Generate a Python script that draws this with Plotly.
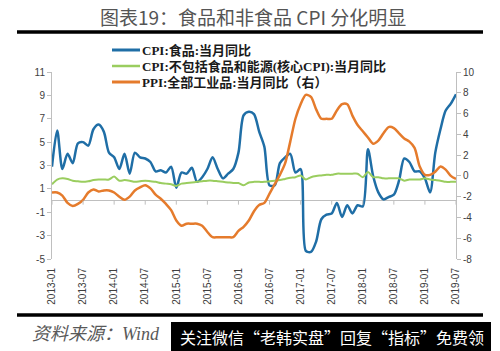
import plotly.graph_objects as go

months = [f"{y}-{m:02d}" for y in range(2013, 2020) for m in range(1, 13)][:79]

cpi_food = [
    2.9, 6.0, 2.7, 4.0, 3.2, 4.9, 5.0, 4.7, 6.1, 6.5, 5.9, 4.1,
    3.7, 2.7, 4.0, 2.3, 4.1, 3.7, 3.6, 3.3, 2.5, 2.6, 2.4, 2.9,
    1.1, 2.4, 2.3, 2.8, 1.6, 2.0, 2.7, 3.7, 2.7, 1.9, 2.3, 2.7,
    4.1, 7.3, 7.6, 7.4, 5.9, 4.6, 1.3, 1.3, 3.2, 3.7, 4.0, 2.4,
    2.7, -4.3, -4.4, -3.5, -1.6, -1.2, -1.1, -0.2, -1.4, -0.4, -1.1, -0.4,
    -0.5, 4.4, 2.1, 0.7, 0.1, 0.3, 0.5, 1.7, 3.6, 3.3, 2.5, 2.5,
    1.9, 0.7, 4.1, 6.1, 7.7, 8.3, 9.1,
]

cpi_core = [
    1.4, 1.8, 1.9, 1.85, 1.7, 1.65, 1.6, 1.65, 1.75, 1.8, 1.8, 1.8,
    2.05, 1.7, 1.75, 1.7, 1.6, 1.65, 1.7, 1.65, 1.6, 1.5, 1.45, 1.4,
    1.25, 1.45, 1.5, 1.55, 1.6, 1.65, 1.7, 1.7, 1.65, 1.6, 1.55, 1.5,
    1.5, 1.3, 1.55, 1.6, 1.6, 1.6, 1.65, 1.7, 1.75, 1.85, 1.95, 2.0,
    2.15, 1.8, 2.0, 2.1, 2.15, 2.2, 2.2, 2.3, 2.3, 2.3, 2.3, 2.3,
    2.0, 2.45, 2.0, 2.0, 1.9, 1.9, 1.9, 1.9, 1.7, 1.8, 1.8, 1.8,
    1.9, 1.8, 1.75, 1.7, 1.6, 1.6, 1.6,
]

ppi = [
    -1.6, -1.6, -1.9, -2.6, -2.9, -2.7, -2.3, -1.6, -1.3, -1.5, -1.4, -1.4,
    -1.6, -2.0, -2.3, -2.0, -1.4, -1.1, -0.9, -1.2, -1.8, -2.2, -2.7, -3.3,
    -4.3, -4.8, -4.6, -4.6, -4.6, -4.8, -5.4, -5.9, -5.9, -5.9, -5.9, -5.9,
    -5.3, -4.9, -4.3, -3.4, -2.8, -2.6, -1.7, -0.8, 0.1, 1.2, 3.3, 5.5,
    6.9, 7.8, 7.6, 6.4, 5.5, 5.5, 5.5, 6.3, 6.9, 6.9, 5.8, 4.9,
    4.3, 3.7, 3.1, 3.4, 4.1, 4.7, 4.6, 4.1, 3.6, 3.3, 2.7, 0.9,
    0.1, 0.1, 0.4, 0.9, 0.6, 0.0, -0.3,
]

names = ["CPI:食品:当月同比", "CPI:不包括食品和能源(核心CPI):当月同比", "PPI:全部工业品:当月同比（右）"]
colors = ["#1f6ea6", "#9acd5f", "#e57b2c"]
widths = [2.5, 2, 2.5]

left_ticks = [11, 9, 7, 5, 3, 1, -1, -3, -5]
right_ticks = [10, 8, 6, 4, 2, 0, -2, -4, -6, -8]
x_ticks = months[::6]

W, H = 500, 351
L, R, T, B = 52, 456, 72, 259


def px(x):
    return (x - L) / (R - L)


def py(y):
    return (B - y) / (B - T)


fig = go.Figure()
fig.add_trace(go.Scatter(x=months, y=cpi_food, name=names[0], mode="lines",
                         line=dict(color=colors[0], width=widths[0], shape="spline", smoothing=0.8)))
fig.add_trace(go.Scatter(x=months, y=cpi_core, name=names[1], mode="lines",
                         line=dict(color=colors[1], width=widths[1], shape="spline", smoothing=0.8)))
fig.add_trace(go.Scatter(x=months, y=ppi, name=names[2], mode="lines", yaxis="y2",
                         line=dict(color=colors[2], width=widths[2], shape="spline", smoothing=0.8)))

tick_font = dict(family="Liberation Sans, Arial, sans-serif", size=10, color="#404040")
axis_col = "#bfbfbf"

fig.update_layout(
    width=W, height=H,
    margin=dict(l=L, r=W - R, t=T, b=H - B, pad=0),
    paper_bgcolor="white", plot_bgcolor="white",
    showlegend=False,
    xaxis=dict(type="category", range=[0, len(months) - 1],
               tickvals=x_ticks, ticktext=x_ticks, tickangle=-90,
               showline=False, showgrid=False, zeroline=False, ticks="",
               tickfont=tick_font, ticklabelstandoff=6),
    yaxis=dict(range=[-5, 11], tickvals=left_ticks, ticktext=[str(v) for v in left_ticks],
               showline=True, linecolor=axis_col, linewidth=1,
               ticks="outside", ticklen=4, tickcolor=axis_col,
               showgrid=False, zeroline=True, zerolinecolor=axis_col, zerolinewidth=1,
               tickfont=tick_font),
    yaxis2=dict(range=[-8, 10], tickvals=right_ticks, ticktext=[str(v) for v in right_ticks],
                overlaying="y", side="right", anchor="x",
                showline=True, linecolor=axis_col, linewidth=1,
                ticks="outside", ticklen=4, tickcolor=axis_col,
                showgrid=False, zeroline=False, tickfont=tick_font),
)

shapes = []
for t in x_ticks:
    shapes.append(dict(type="line", xref="x", yref="y", x0=t, x1=t, y0=0, y1=-0.35,
                       line=dict(color=axis_col, width=1)))
shapes.append(dict(type="line", xref="paper", yref="paper", x0=px(17), x1=px(483),
                   y0=py(32), y1=py(32), line=dict(color="black", width=3.5)))
shapes.append(dict(type="line", xref="paper", yref="paper", x0=px(17), x1=px(483),
                   y0=py(315), y1=py(315), line=dict(color="black", width=3.5)))
shapes.append(dict(type="rect", xref="paper", yref="paper", x0=px(171), x1=px(491),
                   y0=py(351), y1=py(322), fillcolor="black", line=dict(width=0), layer="above"))

# legend (manual, to match compact spacing)
leg_y = [50, 66, 82]
for i in range(3):
    shapes.append(dict(type="line", xref="paper", yref="paper", x0=px(112), x1=px(140),
                       y0=py(leg_y[i]), y1=py(leg_y[i]),
                       line=dict(color=colors[i], width=widths[i] + 0.5)))
    fig.add_annotation(text=names[i], xref="paper", yref="paper",
                       x=px(140), y=py(leg_y[i]), xanchor="left", yanchor="middle",
                       showarrow=False,
                       font=dict(family="Liberation Serif, Noto Sans CJK SC, serif", size=13,
                                 color="#1a1a1a", weight="bold"))
fig.update_layout(shapes=shapes)

fig.add_annotation(text="图表19：食品和非食品 CPI 分化明显", xref="paper", yref="paper",
                   x=px(253), y=py(17), xanchor="center", yanchor="middle", showarrow=False,
                   font=dict(family="Noto Sans CJK SC, sans-serif", size=19, color="#555555"))
fig.add_annotation(text="资料来源：Wind", xref="paper", yref="paper",
                   x=px(30), y=py(334), xanchor="left", yanchor="middle", showarrow=False,
                   font=dict(family="Liberation Serif, Noto Sans CJK SC, serif", size=18,
                             color="#595959", style="italic"))
fig.add_annotation(text="关注微信“老韩实盘”回复“指标”免费领", xref="paper", yref="paper",
                   x=px(332), y=py(337), xanchor="center", yanchor="middle", showarrow=False,
                   font=dict(family="Noto Sans CJK SC, sans-serif", size=16, color="white"))

fig.write_html("out.html")
